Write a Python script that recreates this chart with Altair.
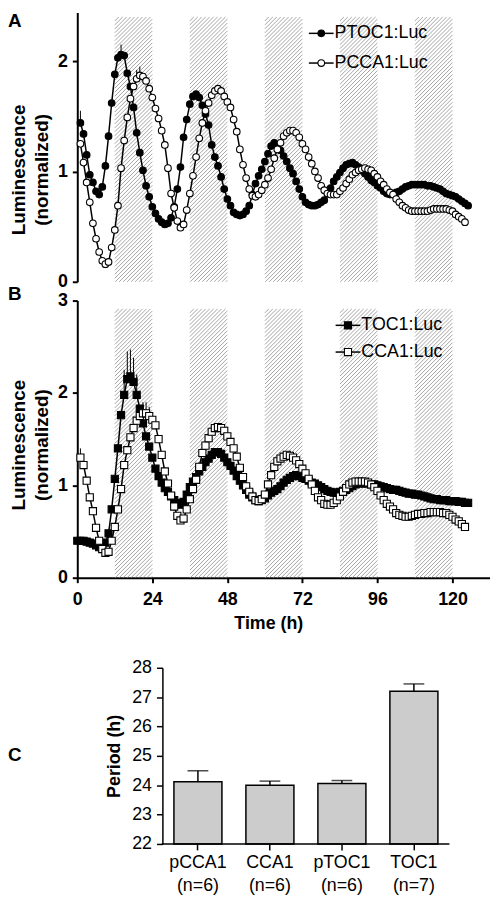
import altair as alt
import pandas as pd

FONT = "Liberation Sans"

# ---------------- data ----------------
hours_ptoc1 = list(range(1, 126))
ptoc1 = [1.44, 1.34, 1.15, 0.97, 0.90, 0.82, 0.79, 0.86, 1.05, 1.32,
         1.62, 1.88, 2.03, 2.06, 2.05, 1.89, 1.77, 1.58, 1.35, 1.17,
         1.01, 0.87, 0.77, 0.68, 0.62, 0.57, 0.54, 0.52, 0.53, 0.58,
         0.68, 0.84, 1.04, 1.31, 1.47, 1.61, 1.68, 1.70, 1.67, 1.60,
         1.52, 1.42, 1.24, 1.13, 1.05, 0.95, 0.84, 0.75, 0.69, 0.63,
         0.61, 0.60, 0.61, 0.64, 0.69, 0.79, 0.89, 0.96, 1.02, 1.09,
         1.16, 1.23, 1.26, 1.24, 1.19, 1.14, 1.09, 1.03, 0.98, 0.91,
         0.84, 0.77, 0.72, 0.70, 0.69, 0.69, 0.70, 0.72, 0.74, 0.80,
         0.85, 0.91, 0.95, 0.99, 1.03, 1.06, 1.07, 1.08, 1.06, 1.04,
         1.01, 0.98, 0.95, 0.92, 0.90, 0.87, 0.85, 0.82, 0.80, 0.79,
         0.79, 0.81, 0.82, 0.84, 0.86, 0.87, 0.88, 0.88, 0.88, 0.88,
         0.88, 0.87, 0.87, 0.86, 0.85, 0.84, 0.82, 0.80, 0.79, 0.78,
         0.77, 0.75, 0.73, 0.71, 0.69]

hours_pcca1 = list(range(1, 125))
pcca1 = [1.25, 1.08, 0.90, 0.72, 0.53, 0.39, 0.27, 0.19, 0.16, 0.18,
         0.31, 0.47, 0.69, 1.03, 1.28, 1.49, 1.66, 1.77, 1.84, 1.87,
         1.86, 1.82, 1.75, 1.67, 1.57, 1.48, 1.37, 1.24, 1.03, 0.80,
         0.67, 0.55, 0.49, 0.52, 0.65, 0.80, 0.96, 1.13, 1.30, 1.44,
         1.55, 1.62, 1.69, 1.73, 1.75, 1.73, 1.68, 1.63, 1.58, 1.47,
         1.36, 1.20, 1.06, 0.94, 0.84, 0.78, 0.77, 0.79, 0.83, 0.88,
         0.94, 1.02, 1.12, 1.20, 1.26, 1.32, 1.35, 1.37, 1.37, 1.35,
         1.31, 1.25, 1.20, 1.13, 1.07, 1.00, 0.94, 0.87, 0.83, 0.80,
         0.79, 0.79, 0.79, 0.82, 0.85, 0.89, 0.93, 0.97, 0.99, 1.01,
         1.02, 1.03, 1.02, 1.01, 0.98, 0.95, 0.91, 0.88, 0.84, 0.81,
         0.79, 0.75, 0.72, 0.69, 0.67, 0.65, 0.64, 0.64, 0.64, 0.64,
         0.64, 0.64, 0.65, 0.66, 0.66, 0.66, 0.66, 0.66, 0.65, 0.64,
         0.61, 0.59, 0.57, 0.54]

hours_toc1 = list(range(0, 126))
toc1 = [0.40, 0.40, 0.40, 0.39, 0.38, 0.37, 0.35, 0.33, 0.32, 0.38,
        0.48, 0.74, 1.07, 1.40, 1.76, 1.98, 2.15, 2.18, 2.12, 1.98,
        1.83, 1.67, 1.53, 1.42, 1.30, 1.18, 1.10, 1.03, 0.97, 0.93,
        0.88, 0.84, 0.81, 0.79, 0.82, 0.90, 0.98, 1.04, 1.09, 1.15,
        1.20, 1.25, 1.29, 1.33, 1.36, 1.36, 1.34, 1.30, 1.25, 1.21,
        1.16, 1.10, 1.05, 1.00, 0.95, 0.90, 0.87, 0.84, 0.83, 0.84,
        0.86, 0.89, 0.92, 0.94, 0.96, 0.99, 1.03, 1.06, 1.08, 1.10,
        1.11, 1.10, 1.08, 1.07, 1.05, 1.03, 1.02, 1.00, 0.98, 0.96,
        0.94, 0.93, 0.92, 0.92, 0.93, 0.94, 0.95, 0.97, 0.99, 1.01,
        1.02, 1.02, 1.02, 1.02, 1.01, 1.01, 1.00, 0.99, 0.98, 0.97,
        0.96, 0.95, 0.95, 0.94, 0.93, 0.92, 0.91, 0.91, 0.90, 0.90,
        0.89, 0.88, 0.87, 0.86, 0.85, 0.85, 0.84, 0.84, 0.84, 0.83,
        0.83, 0.83, 0.82, 0.82, 0.81, 0.81]

hours_cca1 = list(range(1, 125))
cca1 = [1.30, 1.22, 1.05, 0.87, 0.72, 0.54, 0.40, 0.31, 0.27, 0.28,
        0.40, 0.55, 0.74, 0.96, 1.22, 1.38, 1.52, 1.62, 1.70, 1.75,
        1.78, 1.78, 1.75, 1.71, 1.65, 1.50, 1.33, 1.15, 1.02, 0.89,
        0.77, 0.67, 0.62, 0.64, 0.74, 0.85, 0.96, 1.06, 1.20, 1.35,
        1.43, 1.51, 1.58, 1.62, 1.63, 1.62, 1.59, 1.53, 1.47, 1.40,
        1.31, 1.19, 1.09, 0.99, 0.93, 0.88, 0.84, 0.83, 0.85, 0.90,
        1.01, 1.11, 1.20, 1.26, 1.29, 1.31, 1.33, 1.32, 1.30, 1.27,
        1.23, 1.18, 1.13, 1.07, 1.01, 0.94, 0.87, 0.84, 0.80, 0.79,
        0.79, 0.81, 0.84, 0.88, 0.93, 0.97, 1.01, 1.03, 1.04, 1.04,
        1.04, 1.04, 1.03, 1.01, 0.98, 0.94, 0.89, 0.84, 0.80, 0.77,
        0.74, 0.70, 0.68, 0.67, 0.66, 0.66, 0.67, 0.68, 0.69, 0.69,
        0.70, 0.70, 0.71, 0.71, 0.71, 0.71, 0.70, 0.70, 0.68, 0.66,
        0.63, 0.61, 0.58, 0.55]

# upper ends of the few visible error bars
err_a_series = ["PTOC1", "PTOC1", "PCCA1", "PCCA1"]
err_a_t = [1, 14, 19, 20]
err_a_hi = [1.55, 2.15, 1.92, 1.95]
err_b_series = ["TOC1", "TOC1", "TOC1", "TOC1", "TOC1", "CCA1", "CCA1", "CCA1", "CCA1", "CCA1"]
err_b_t = [15, 16, 17, 18, 19, 1, 20, 21, 22, 23]
err_b_hi = [2.25, 2.45, 2.47, 2.38, 2.20, 1.40, 1.86, 1.90, 1.90, 1.85]

night_start = [12, 36, 60, 84, 108]
night_end = [24, 48, 72, 96, 120]
band_top_a = 2.40
band_top_b = 2.91

period_labels = ["pCCA1|(n=6)", "CCA1|(n=6)", "pTOC1|(n=6)", "TOC1|(n=7)"]
period_mean = [24.12, 24.00, 24.06, 27.20]
period_sem = [0.37, 0.14, 0.10, 0.25]

# ---------------- geometry ----------------
XMAX = 132
W = 417
YMAX_A, HA = 2.44, 272
YMAX_B, HB = 3.0, 280
C_SHIFT, WC, HC = 86, 290, 178


def hatch_frame(top, ymax, h, step=4.0):
    px_h = W / XMAX
    px_v = h / ymax
    rows = []
    for a, b in zip(night_start, night_end):
        bw = (b - a) * px_h
        bh = top * px_v
        c = -bh
        while c < bw:
            y1 = max(0.0, -c)
            y2 = min(bh, bw - c)
            if y2 > y1:
                rows.append({"t1": a + (c + y1) / px_h, "t2": a + (c + y2) / px_h,
                             "v1": y1 / px_v, "v2": y2 / px_v})
            c += step
    return pd.DataFrame(rows)


xscale = alt.Scale(domain=[0, XMAX], nice=False, zero=False)

axis_common = dict(grid=False, domainColor="black", domainWidth=2, tickColor="black",
                   tickWidth=2, tickSize=5, labelFontSize=18, labelFontWeight="bold",
                   labelColor="black", labelFont=FONT, labelOverlap=False)

ax_ya = alt.Axis(values=[0, 1, 2], title=None, labelPadding=5, format="d", **axis_common)
ax_yb = alt.Axis(values=[0, 1, 2, 3], title=None, labelPadding=5, format="d", **axis_common)
ax_xb = alt.Axis(values=[0, 24, 48, 72, 96, 120], title="Time (h)", titleFontSize=18,
                 titleFontWeight="bold", titleFont=FONT, titleColor="black", titlePadding=6,
                 titleX=193, titleAlign="center",
                 labelPadding=8, labelFlush=False, format="d", **axis_common)


def series_layers(hours, vals, xaxis, yscale, yaxis, shape, filled):
    df = pd.DataFrame({"t": hours, "v": vals})
    base = alt.Chart(df).encode(
        x=alt.X("t:Q", scale=xscale, axis=xaxis),
        y=alt.Y("v:Q", scale=yscale, axis=yaxis),
    )
    line = base.mark_line(color="black", strokeWidth=1.5)
    size = 45 if shape == "circle" else 52
    pts = base.mark_point(shape=shape, filled=True, fill="black" if filled else "white",
                          stroke="black", strokeWidth=1.1, size=size, opacity=1)
    return [line, pts]


def err_layer(series, ts, his, sources, xaxis, yscale, yaxis):
    lookup = {}
    for name, (hrs, vals) in sources.items():
        for h, v in zip(hrs, vals):
            lookup[(name, h)] = v
    df = pd.DataFrame({"t": ts, "lo": [lookup[(s, t)] for s, t in zip(series, ts)], "hi": his})
    return alt.Chart(df).mark_rule(color="black", strokeWidth=1).encode(
        x=alt.X("t:Q", scale=xscale, axis=xaxis),
        y=alt.Y("lo:Q", scale=yscale, axis=yaxis),
        y2="hi:Q",
    )


def legend_entry(label, x0, y0, shape, filled):
    d = alt.Chart(pd.DataFrame({"label": [label]}))
    rule = d.mark_rule(color="black", strokeWidth=1.5).encode(
        x=alt.value(x0), x2=alt.value(x0 + 25), y=alt.value(y0))
    size = 45 if shape == "circle" else 52
    pt = d.mark_point(shape=shape, filled=True, fill="black" if filled else "white",
                      stroke="black", strokeWidth=1.1, size=size, opacity=1).encode(
        x=alt.value(x0 + 12.5), y=alt.value(y0))
    txt = d.mark_text(align="left", baseline="middle", fontSize=18, font=FONT,
                      color="black").encode(x=alt.value(x0 + 26), y=alt.value(y0), text="label:N")
    return [rule, pt, txt]


def text_mark(label, x, y, size, weight="bold", angle=0, align="center", baseline="middle"):
    kw = dict(fontSize=size, fontWeight=weight, font=FONT, color="black",
              align=align, baseline=baseline)
    if angle:
        kw["angle"] = angle
    return alt.Chart(pd.DataFrame({"label": [label]})).mark_text(**kw).encode(
        x=alt.value(x), y=alt.value(y), text="label:N")


def hatch_layer(top, ymax, h, yscale, yaxis, xaxis):
    return alt.Chart(hatch_frame(top, ymax, h)).mark_rule(color="#9a9a9a", strokeWidth=0.9).encode(
        x=alt.X("t1:Q", scale=xscale, axis=xaxis), x2="t2:Q",
        y=alt.Y("v1:Q", scale=yscale, axis=yaxis), y2="v2:Q")


# ---------------- panel A ----------------
ys_a = alt.Scale(domain=[0, YMAX_A], nice=False, zero=True)
layers_a = [hatch_layer(band_top_a, YMAX_A, HA, ys_a, ax_ya, None)]
layers_a.append(err_layer(err_a_series, err_a_t, err_a_hi,
                          {"PTOC1": (hours_ptoc1, ptoc1), "PCCA1": (hours_pcca1, pcca1)},
                          None, ys_a, ax_ya))
layers_a += series_layers(hours_ptoc1, ptoc1, None, ys_a, ax_ya, "circle", True)
layers_a += series_layers(hours_pcca1, pcca1, None, ys_a, ax_ya, "circle", False)
layers_a += legend_entry("PTOC1:Luc", 234, 21, "circle", True)
layers_a += legend_entry("PCCA1:Luc", 234, 51, "circle", False)
layers_a.append(text_mark("A", -70, 0, 19, align="left", baseline="top"))
layers_a.append(text_mark("Luminescence", -59, 159, 19, angle=270))
layers_a.append(text_mark("(normalized)", -36, 159, 19, angle=270))
panel_a = alt.layer(*layers_a).properties(width=W, height=HA)

# ---------------- panel B ----------------
ys_b = alt.Scale(domain=[0, YMAX_B], nice=False, zero=True)
layers_b = [hatch_layer(band_top_b, YMAX_B, HB, ys_b, ax_yb, ax_xb)]
layers_b.append(err_layer(err_b_series, err_b_t, err_b_hi,
                          {"TOC1": (hours_toc1, toc1), "CCA1": (hours_cca1, cca1)},
                          ax_xb, ys_b, ax_yb))
layers_b += series_layers(hours_toc1, toc1, ax_xb, ys_b, ax_yb, "square", True)
layers_b += series_layers(hours_cca1, cca1, ax_xb, ys_b, ax_yb, "square", False)
layers_b += legend_entry("TOC1:Luc", 261, 25, "square", True)
layers_b += legend_entry("CCA1:Luc", 261, 52, "square", False)
layers_b.append(text_mark("B", -70, -16, 19, align="left", baseline="top"))
layers_b.append(text_mark("Luminescence", -59, 146, 19, angle=270))
layers_b.append(text_mark("(normalized)", -36, 146, 19, angle=270))
panel_b = alt.layer(*layers_b).properties(width=W, height=HB)

# ---------------- panel C ----------------
dfc = pd.DataFrame({"cat": period_labels, "mean": period_mean,
                    "hi": [m + s for m, s in zip(period_mean, period_sem)]})
ax_xc = alt.Axis(title=None, labelAngle=0, labelExpr="split(datum.label, '|')",
                 labelFontSize=18, labelFont=FONT, labelColor="black", labelLineHeight=23,
                 labelPadding=4, domain=False, tickColor="black",
                 tickWidth=1.5, tickSize=6, grid=False)
ax_yc = alt.Axis(values=[22, 23, 24, 25, 26, 27, 28], title="Period (h)", titleFontSize=18,
                 titleFontWeight="bold", titleFont=FONT, titleColor="black", titlePadding=8,
                 labelFontSize=18, labelFont=FONT, labelColor="black", labelPadding=5,
                 domainColor="black", domainWidth=1.5, tickColor="black", tickWidth=1.5,
                 tickSize=6, grid=False, format="d", offset=-C_SHIFT)
xc = alt.X("cat:N", sort=period_labels,
           scale=alt.Scale(range=[C_SHIFT, C_SHIFT + WC], paddingInner=0.333, paddingOuter=0.16),
           axis=ax_xc)
ysc = alt.Scale(domain=[22, 28], nice=False, zero=False)
bars = alt.Chart(dfc).mark_bar(fill="#cccccc", stroke="black", strokeWidth=1.5).encode(
    x=xc, y=alt.Y("mean:Q", scale=ysc, axis=ax_yc), y2=alt.datum(22))
ebar = alt.Chart(dfc).mark_rule(color="black", strokeWidth=1.5).encode(
    x=xc, y=alt.Y("mean:Q", scale=ysc, axis=ax_yc), y2="hi:Q")
ecap = alt.Chart(dfc).mark_tick(color="black", thickness=1.5, size=21).encode(
    x=xc, y=alt.Y("hi:Q", scale=ysc, axis=ax_yc))
xline = alt.Chart(pd.DataFrame({"k": [0]})).mark_rule(color="black", strokeWidth=1.5).encode(
    x=alt.value(C_SHIFT - 0.75), x2=alt.value(C_SHIFT + WC), y=alt.value(HC))
letter_c = text_mark("C", -70, 79, 19, align="left", baseline="top")
panel_c = alt.layer(bars, ebar, ecap, xline, letter_c).properties(width=C_SHIFT + WC, height=HC)

top = alt.vconcat(panel_a, panel_b, spacing=-6)
chart = alt.vconcat(top, panel_c, spacing=27).properties(padding=0).configure(
    font=FONT).configure_view(stroke=None)

chart.save("out.html", embed_options={"renderer": "svg", "actions": False})
